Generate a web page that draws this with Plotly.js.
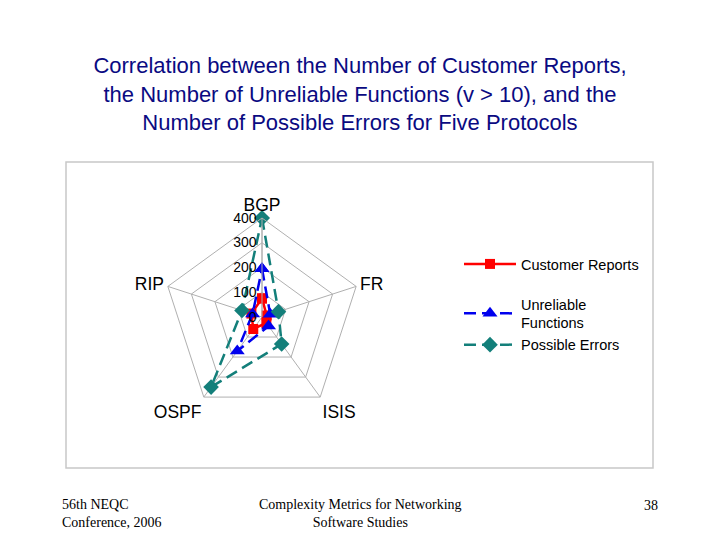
<!DOCTYPE html>
<html>
<head>
<meta charset="utf-8">
<script src="https://cdn.plot.ly/plotly-3.0.1.min.js"></script>
<style>html,body{margin:0;padding:0;background:#fff;}#chart{width:720px;height:540px;}</style>
</head>
<body>
<div id="chart"></div>
<script>
var protocols = ["BGP", "FR", "ISIS", "OSPF", "RIP"];
var customerReports = [75, 20, 30, 60, 45];
var unreliableFunctions = [195, 35, 45, 170, 40];
var possibleErrors = [400, 70, 135, 350, 85];
var radialTicks = [0, 100, 200, 300, 400];
var seriesNames = ["Customer Reports", "Unreliable<br>Functions", "Possible Errors"];

function closed(a){ return a.concat([a[0]]); }

var traces = [
  {type:'scatterpolar', r: closed(customerReports), theta: closed(protocols), name: seriesNames[0],
   mode:'lines+markers', line:{color:'#ff0000', width:2.5}, marker:{symbol:'square', size:10, color:'#ff0000'}, legend:'legend'},
  {type:'scatterpolar', r: closed(unreliableFunctions), theta: closed(protocols), name: seriesNames[1],
   mode:'lines+markers', line:{color:'#0000ee', width:2.5, dash:'12px,6px'}, marker:{symbol:'triangle-up', size:13, color:'#0000ee'}, legend:'legend2'},
  {type:'scatterpolar', r: closed(possibleErrors), theta: closed(protocols), name: seriesNames[2],
   mode:'lines+markers', line:{color:'#137f7a', width:2.5, dash:'12px,6px'}, marker:{symbol:'diamond', size:12, color:'#137f7a'}, legend:'legend2'}
];

var legendFont = {size:14.5, family:'Liberation Sans, Arial, sans-serif', color:'#000'};

var layout = {
  width:720, height:540,
  margin:{l:0, r:0, t:0, b:0},
  paper_bgcolor:'#ffffff',
  font:{family:'Liberation Sans, Arial, sans-serif', color:'#000'},
  title:{text:'Correlation between the Number of Customer Reports,<br>the Number of Unreliable Functions (v > 10), and the<br>Number of Possible Errors for Five Protocols',
         font:{size:22, family:'Liberation Sans, Arial, sans-serif', color:'#0a0a82'}, x:0.5, xanchor:'center', y:1-73/540, yanchor:'middle'},
  polar:{
    domain:{x:[163/720, 361/720], y:[1-416/540, 1-218/540]},
    bgcolor:'rgba(0,0,0,0)',
    gridshape:'linear',
    radialaxis:{range:[0,400], tickvals:radialTicks, ticktext:radialTicks.map(String), angle:90, tickangle:90, side:'counterclockwise', showline:true,
      linecolor:'#b0b0b0', gridcolor:'#b0b0b0', tickfont:{size:14}, ticks:'', showgrid:true},
    angularaxis:{direction:'clockwise', rotation:90, categoryarray:protocols, tickfont:{size:17.5},
      linecolor:'#b0b0b0', gridcolor:'#b0b0b0', ticks:'', showline:true}
  },
  showlegend:true,
  legend:{x:459/720, y:1-248/540, xanchor:'left', yanchor:'top', font:legendFont, bgcolor:'rgba(0,0,0,0)', itemwidth:52},
  legend2:{x:459/720, y:1-288/540, xanchor:'left', yanchor:'top', font:legendFont, bgcolor:'rgba(0,0,0,0)', itemwidth:52},
  shapes:[{type:'rect', xref:'paper', yref:'paper', x0:66/720, x1:653/720, y0:1-468/540, y1:1-162/540, line:{color:'#c8c8c8', width:1.5}}],
  annotations:[
    {text:'56th NEQC<br>Conference, 2006', xref:'paper', yref:'paper', x:60/720, y:1-513/540, xanchor:'left', yanchor:'middle', align:'left', showarrow:false, font:{family:'Liberation Serif, Times New Roman, serif', size:14}},
    {text:'Complexity Metrics for Networking<br>Software Studies', xref:'paper', yref:'paper', x:360/720, y:1-513/540, xanchor:'center', yanchor:'middle', align:'center', showarrow:false, font:{family:'Liberation Serif, Times New Roman, serif', size:14}},
    {text:'38', xref:'paper', yref:'paper', x:660/720, y:1-505/540, xanchor:'right', yanchor:'middle', showarrow:false, font:{family:'Liberation Serif, Times New Roman, serif', size:14}}
  ]
};
Plotly.newPlot('chart', traces, layout, {displayModeBar:false, staticPlot:true});
</script>
</body>
</html>
